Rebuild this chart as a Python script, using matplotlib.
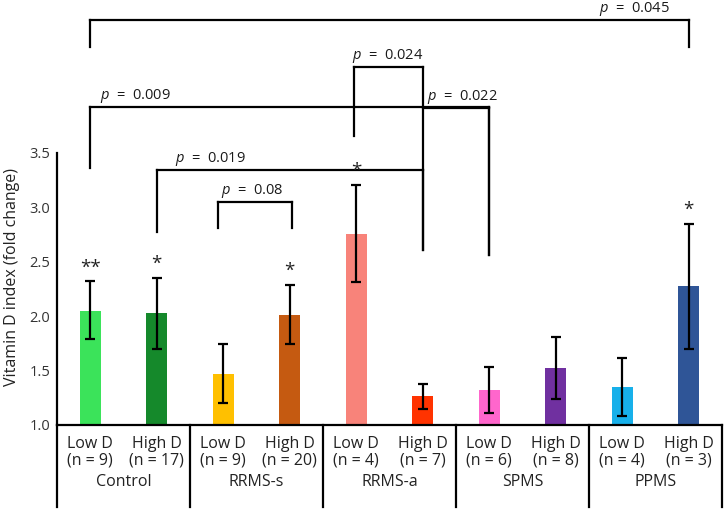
import matplotlib
matplotlib.use("Agg")
import matplotlib.pyplot as plt
import matplotlib.transforms as mtransforms

plt.rcParams["font.family"] = ["Open Sans", "DejaVu Sans"]
plt.rcParams["mathtext.fontset"] = "custom"
plt.rcParams["mathtext.rm"] = "Open Sans"
plt.rcParams["mathtext.it"] = "Open Sans:italic"

groups = ["Control", "RRMS-s", "RRMS-a", "SPMS", "PPMS"]
levels = ["Low D", "High D"]
n_counts = [9, 17, 9, 20, 4, 7, 6, 8, 4, 3]
means = [2.05, 2.03, 1.47, 2.01, 2.76, 1.27, 1.32, 1.52, 1.35, 2.28]
err_low = [1.79, 1.70, 1.20, 1.74, 2.31, 1.15, 1.11, 1.24, 1.08, 1.70]
err_high = [2.32, 2.35, 1.74, 2.29, 3.21, 1.38, 1.53, 1.81, 1.62, 2.85]
colors = ["#3be35a", "#15892b", "#ffc000", "#c55a11", "#f8837a",
          "#ff3300", "#ff66cc", "#7030a0", "#17b0ea", "#2f5597"]
stars = ["**", "*", "", "*", "*", "", "", "", "", "*"]

# brackets: (left x, right x, bar height, left leg end, right leg end, label, label x)
brackets = [
    (0, 9, 4.72, 4.47, 4.47, "0.045", 8.19),
    (0, 6, 3.92, 3.36, 2.56, "0.009", 0.68),
    (1, 5, 3.34, 2.77, 2.61, "0.019", 1.80),
    (1.92, 3.03, 3.05, 2.81, 2.81, "0.08", 2.43),
    (3.96, 5, 4.29, 3.66, 2.61, "0.024", 4.48),
    (5, 6, 3.91, None, 2.56, "0.022", 5.60),
]

fig = plt.figure(figsize=(7.25, 5.12), dpi=100)
ax = fig.add_axes([57 / 725, 87 / 512, 665 / 725, 425 / 512])

x = list(range(len(means)))
lower = [m - lo for m, lo in zip(means, err_low)]
upper = [hi - m for m, hi in zip(means, err_high)]
ax.bar(x, [m - 1.0 for m in means], bottom=1.0, width=0.31, color=colors, zorder=2)
ax.errorbar(x, means, yerr=[lower, upper], fmt="none", ecolor="black",
            elinewidth=1.6, capsize=3.6, capthick=1.6, zorder=3)

for xi, s, top in zip(x, stars, err_high):
    if s:
        ax.annotate(s, (xi, top), xytext=(0, 3.5), textcoords="offset points",
                    ha="center", va="bottom", fontsize=13.5, color="#222222")

lw = 1.6
for x1, x2, yb, yl, yr, label, lx in brackets:
    ax.plot([x1, x2], [yb, yb], color="black", lw=lw, clip_on=False,
            solid_capstyle="projecting")
    if yl is not None:
        ax.plot([x1, x1], [yb, yl], color="black", lw=lw, clip_on=False)
    ax.plot([x2, x2], [yb, yr], color="black", lw=lw, clip_on=False)
    ax.annotate("$p$  =  " + label, (lx, yb), xytext=(0, 6), textcoords="offset points",
                ha="center", va="baseline", fontsize=10.5, color="#1a1a1a")

ax.set_xlim(-0.5, 9.5)
ax.set_ylim(1.0, 1.0 + 425 / 108.8)
ax.set_yticks([1.0, 1.5, 2.0, 2.5, 3.0, 3.5])
ax.set_yticklabels(["1.0", "1.5", "2.0", "2.5", "3.0", "3.5"])
ax.tick_params(axis="y", length=0, pad=5, labelsize=10.5, labelcolor="#333333")
ax.set_xticks([])
for side in ["top", "right"]:
    ax.spines[side].set_visible(False)
ax.spines["left"].set_bounds(1.0, 3.5)
ax.spines["left"].set_linewidth(1.6)
ax.spines["bottom"].set_linewidth(1.6)

ax.set_ylabel("Vitamin D index (fold change)", fontsize=11.5, color="#222222")
ax.yaxis.set_label_coords(-0.056, 0.348)

# group separators below the axis
trans = mtransforms.blended_transform_factory(ax.transData, fig.transFigure)
for sep in [-0.5, 1.5, 3.5, 5.5, 7.5, 9.5]:
    ax.plot([sep, sep], [87 / 512, 5 / 512], color="black", lw=lw,
            transform=trans, clip_on=False)

for i, xi in enumerate(x):
    ax.text(xi, 1.0, f"{levels[i % 2]}\n(n = {n_counts[i]})", ha="center", va="top",
            fontsize=11.5, linespacing=1.05, color="#222222",
            transform=ax.transData + mtransforms.ScaledTranslation(0, -11 / 100, fig.dpi_scale_trans))
for g, name in enumerate(groups):
    ax.text(2 * g + 0.5, 1.0, name, ha="center", va="top", fontsize=11.5, color="#222222",
            transform=ax.transData + mtransforms.ScaledTranslation(0, -49 / 100, fig.dpi_scale_trans))

fig.savefig("out.png", dpi=100)
